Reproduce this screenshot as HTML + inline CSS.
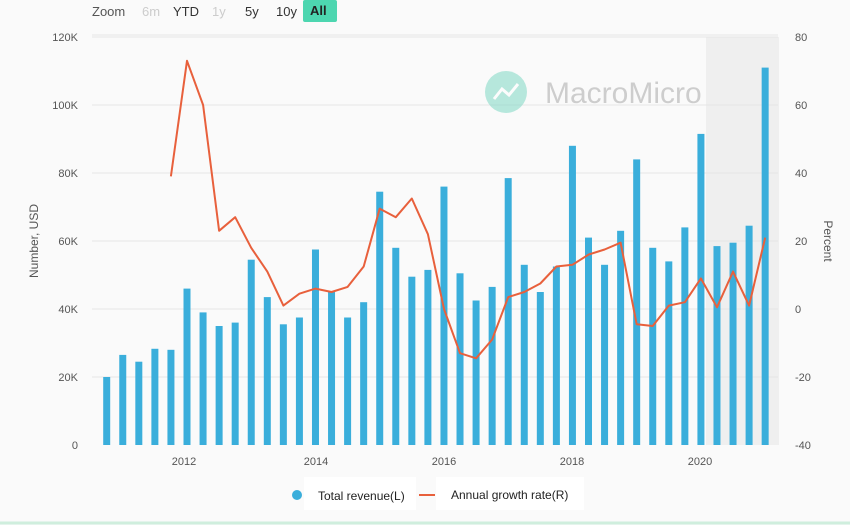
<!DOCTYPE html>
<html><head><meta charset="utf-8"><style>
html,body{margin:0;padding:0;background:#fafafa;}
svg{display:block;font-family:"Liberation Sans",sans-serif;}
</style></head><body>
<svg id="s" width="850" height="525" xmlns="http://www.w3.org/2000/svg">
<rect x="0" y="0" width="850" height="525" fill="#fafafa"/>
<rect x="706" y="37" width="73" height="408" fill="#efefef"/>
<g font-size="13" fill="#333">
<text x="92" y="16" fill="#555">Zoom</text>
<text x="142" y="16" fill="#ccc">6m</text>
<text x="173" y="16">YTD</text>
<text x="212" y="16" fill="#ccc">1y</text>
<text x="245" y="16">5y</text>
<text x="276" y="16">10y</text>
<rect x="303" y="0" width="34" height="22" rx="2" fill="#4dd6b0"/>
<text x="310" y="15" font-weight="bold" fill="#222">All</text>
</g>
<line x1="92" y1="35" x2="778" y2="35" stroke="#e6e6e6"/>
<g id="grid" stroke="#e6e6e6" stroke-width="1"></g>
<g font-size="11" fill="#555" id="yl"></g>
<text transform="translate(38,241) rotate(-90)" font-size="12" fill="#555" text-anchor="middle">Number, USD</text>
<text transform="translate(824,241) rotate(90)" font-size="12" fill="#555" text-anchor="middle">Percent</text>
<g id="bars" fill="#3aaedb"></g>
<g opacity="0.55">
<circle cx="506" cy="92" r="21" fill="#7fd8c4"/>
<polyline points="494,99 502,89 509,95 518,84" fill="none" stroke="#fff" stroke-width="3"/>
<text x="545" y="103" font-size="30" fill="#aaa">MacroMicro</text>
</g>
<polyline id="ln" fill="none" stroke="#e8603c" stroke-width="2" stroke-linejoin="round"/>
<g font-size="11" fill="#555" text-anchor="middle">
<text x="184" y="465">2012</text><text x="316" y="465">2014</text><text x="444" y="465">2016</text><text x="572" y="465">2018</text><text x="700" y="465">2020</text>
</g>
<rect x="304" y="477" width="112" height="33" fill="#fff"/>
<rect x="436" y="477" width="148" height="33" fill="#fff"/>
<circle cx="297" cy="495" r="5" fill="#3aaedb"/>
<text x="318" y="500" font-size="12" fill="#222">Total revenue(L)</text>
<line x1="419" y1="495" x2="435" y2="495" stroke="#e8603c" stroke-width="2"/>
<text x="451" y="499" font-size="12" fill="#222">Annual growth rate(R)</text>
<line x1="0" y1="523" x2="850" y2="523" stroke="#cfeedd" stroke-width="3"/>
</svg>
<script>
var NS="http://www.w3.org/2000/svg";
function el(t,a,p){var e=document.createElementNS(NS,t);for(var k in a)e.setAttribute(k,a[k]);document.getElementById(p).appendChild(e);return e;}
var yl=["0","20K","40K","60K","80K","100K","120K"],yr=["-40","-20","0","20","40","60","80"];
for(var i=0;i<7;i++){var y=445-i*68;
 if(i>0)el("line",{x1:92,x2:778,y1:y,y2:y},"grid");
 var t=el("text",{x:78,y:y+4,"text-anchor":"end"},"yl");t.textContent=yl[i];
 t=el("text",{x:795,y:y+4},"yl");t.textContent=yr[i];}
var b=[20,26.5,24.5,28.3,28,46,39,35,36,54.5,43.5,35.5,37.5,57.5,45,37.5,42,74.5,58,49.5,51.5,76,50.5,42.5,46.5,78.5,53,45,52.5,88,61,53,63,84,58,54,64,91.5,58.5,59.5,64.5,111];
function X(i){return 106.7+i*16.06;}
b.forEach(function(v,i){var h=v*3.4;el("rect",{x:X(i)-3.5,y:445-h,width:7,height:h},"bars");});
var l=[39,73,60,23,27,18,11,1,4.5,6,5,6.5,12.5,29.5,27,32.5,22,0,-13,-14.5,-9,3.5,5,7.5,12.5,13,16,17.5,19.5,-4.5,-5,1,2,9,0.5,11,1,21];
var pts=l.map(function(v,i){return X(i+4).toFixed(1)+","+(309-v*3.4).toFixed(1);}).join(" ");
document.getElementById("ln").setAttribute("points",pts);
</script>
</body></html>
